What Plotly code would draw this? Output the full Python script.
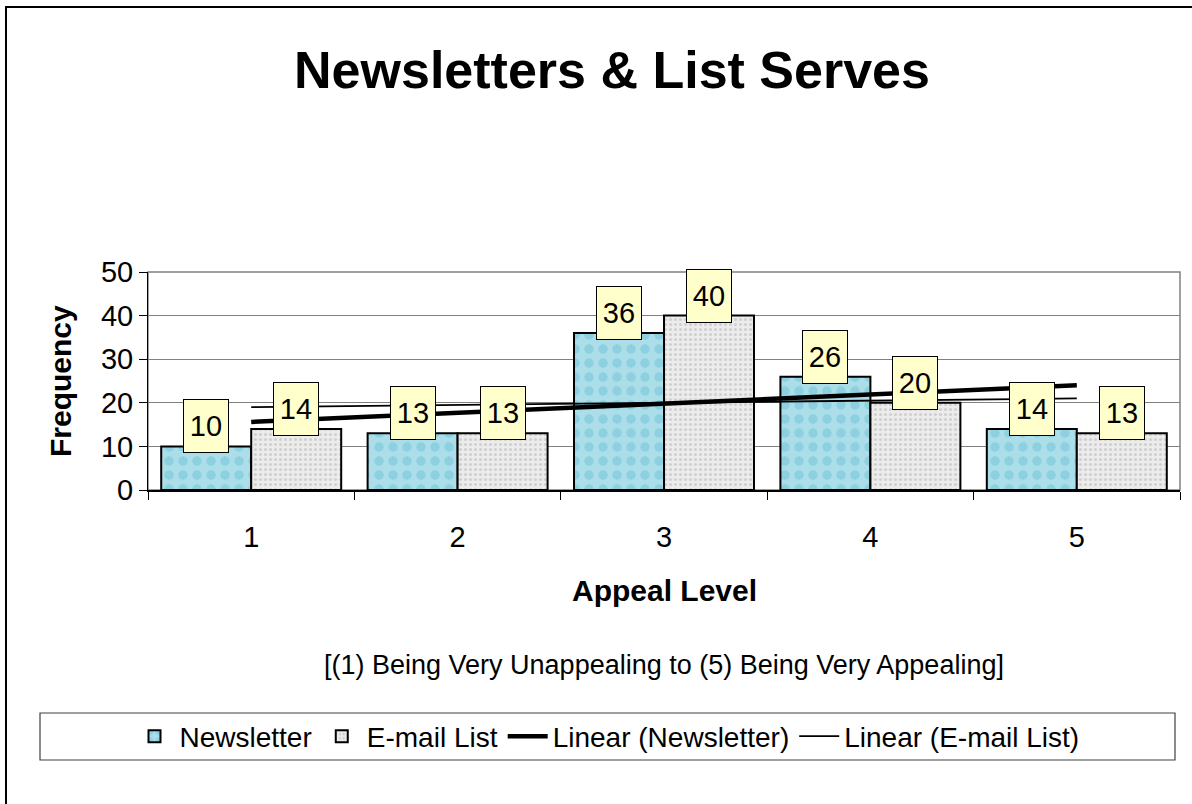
import numpy as np
import plotly.graph_objects as go

categories = [1, 2, 3, 4, 5]
tick_labels = ["1", "2", "3", "4", "5"]
newsletter = [10, 13, 36, 26, 14]
email_list = [14, 13, 40, 20, 13]

FONT = "Liberation Sans, Arial, sans-serif"

# plot area in pixels
L, R, T, B = 148, 1180, 272, 490
W, H = 1192, 804
pw, ph = R - L, B - T
def px(x):  # pixel -> paper x
    return (x - L) / pw
def py(y):  # pixel -> paper y
    return (B - y) / ph

bargap = 0.128
bar_w = (1 - bargap) / 2

fig = go.Figure()
fig.add_trace(go.Bar(
    x=categories, y=newsletter, name="Newsletter",
    marker=dict(color="#A8DCE8", line=dict(color="black", width=2),
                pattern=dict(shape=".", bgcolor="#ABDEE9", fgcolor="#8DD0E0",
                             size=14, solidity=0.35, fillmode="replace")),
))
fig.add_trace(go.Bar(
    x=categories, y=email_list, name="E-mail List",
    marker=dict(color="#E8E8E8", line=dict(color="black", width=2),
                pattern=dict(shape=".", bgcolor="#ECECEC", fgcolor="#D0D0D0",
                             size=5, solidity=0.3, fillmode="replace")),
))

xs = np.array(categories, dtype=float)
for vals, name, lw in [(newsletter, "Linear (Newsletter)", 4.5), (email_list, "Linear (E-mail List)", 1.8)]:
    m, c = np.polyfit(xs, np.array(vals, dtype=float), 1)
    xl = np.array([xs.min(), xs.max()])
    fig.add_trace(go.Scatter(x=xl, y=m * xl + c, mode="lines", name=name,
                             line=dict(color="black", width=lw)))

annotations = []
for vals, off in [(newsletter, -bar_w / 2), (email_list, bar_w / 2)]:
    for cat, v in zip(categories, vals):
        annotations.append(dict(
            x=cat + off, y=v, xref="x", yref="y", text=str(v), showarrow=False,
            xanchor="center", yanchor="bottom", yshift=-7, width=44, height=52,
            bgcolor="#FFFFCC", bordercolor="black", borderwidth=1, borderpad=0,
            font=dict(family=FONT, size=29, color="black")))

annotations += [
    dict(x=px(60), y=py(381), xref="paper", yref="paper", text="<b>Frequency</b>",
         textangle=-90, showarrow=False, xanchor="center", yanchor="middle",
         font=dict(family=FONT, size=30, color="black")),
    dict(x=px(664), y=py(590), xref="paper", yref="paper", text="<b>Appeal Level</b>",
         showarrow=False, xanchor="center", yanchor="middle",
         font=dict(family=FONT, size=30, color="black")),
    dict(x=px(664), y=py(665), xref="paper", yref="paper",
         text="[(1) Being Very Unappealing to (5) Being Very Appealing]",
         showarrow=False, xanchor="center", yanchor="middle",
         font=dict(family=FONT, size=27, color="black")),
]

shapes = [
    dict(type="rect", xref="paper", yref="paper", x0=0, x1=1, y0=0, y1=1,
         line=dict(color="#808080", width=1.5), layer="below"),
    dict(type="rect", xref="paper", yref="paper", x0=px(6), x1=px(1198), y0=py(812), y1=py(7),
         line=dict(color="black", width=2)),
    # legend frame
    dict(type="rect", xref="paper", yref="paper", x0=px(40), x1=px(1175), y0=py(760), y1=py(713),
         line=dict(color="#404040", width=1.2)),
]

fig.update_layout(
    width=W, height=H,
    margin=dict(l=L, r=W - R, t=T, b=H - B, autoexpand=False),
    paper_bgcolor="white", plot_bgcolor="white",
    barmode="group", bargap=bargap, bargroupgap=0,
    font=dict(family=FONT, color="black"),
    title=dict(text="<b>Newsletters & List Serves</b>", x=612 / W, xref="container",
               y=1 - 70 / H, yref="container", xanchor="center", yanchor="middle",
               font=dict(family=FONT, size=52, color="black")),
    xaxis=dict(range=[0.5, 5.5], tickvals=categories, ticktext=tick_labels,
               ticks="", showgrid=False, zeroline=False,
               showline=True, linecolor="black", linewidth=1.5,
               tickfont=dict(family=FONT, size=29, color="black"),
               ticklabelstandoff=20,
               minor=dict(tickvals=[0.5, 1.5, 2.5, 3.5, 4.5, 5.5], ticks="outside",
                          ticklen=8, tickcolor="black", tickwidth=1, showgrid=False)),
    yaxis=dict(range=[0, 50], dtick=10, ticks="outside", ticklen=8, tickcolor="black",
               showgrid=True, gridcolor="#808080", gridwidth=1, zeroline=False,
               showline=True, linecolor="black", linewidth=1,
               tickfont=dict(family=FONT, size=29, color="black")),
    legend=dict(orientation="h", x=px(607), xanchor="center", y=py(736.5), yanchor="middle",
                borderwidth=0, bgcolor="rgba(0,0,0,0)", itemwidth=40,
                font=dict(family=FONT, size=28, color="black"), traceorder="normal"),
    annotations=annotations,
    shapes=shapes,
    showlegend=True,
)

fig.write_html("out.html", config={"displayModeBar": False},
               post_script="document.body.style.margin='0px';")
